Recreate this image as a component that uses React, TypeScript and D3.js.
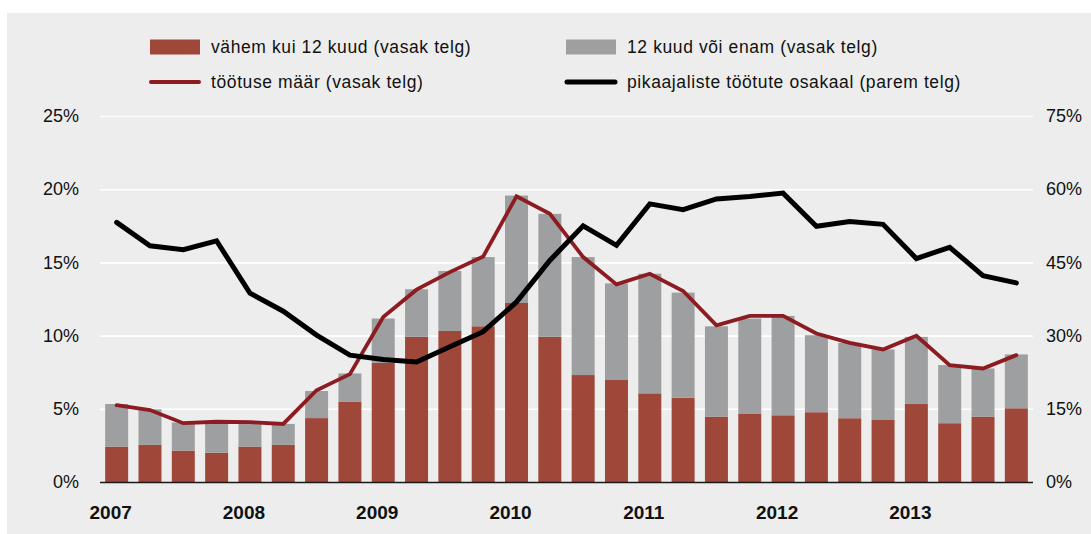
import React from "react";
import { scaleBand, scaleLinear, line } from "d3";

// quarterly data 2007Q1 .. 2013Q4
const quarters = [
  "2007Q1", "2007Q2", "2007Q3", "2007Q4",
  "2008Q1", "2008Q2", "2008Q3", "2008Q4",
  "2009Q1", "2009Q2", "2009Q3", "2009Q4",
  "2010Q1", "2010Q2", "2010Q3", "2010Q4",
  "2011Q1", "2011Q2", "2011Q3", "2011Q4",
  "2012Q1", "2012Q2", "2012Q3", "2012Q4",
  "2013Q1", "2013Q2", "2013Q3", "2013Q4",
];
const yearLabels = ["2007", "2008", "2009", "2010", "2011", "2012", "2013"];

// alla 12 kuu töötud (% tööjõust)
const shortTerm = [
  2.45, 2.57, 2.18, 2.04, 2.45, 2.57, 4.4, 5.53,
  8.17, 9.95, 10.35, 10.67, 12.26, 9.95, 7.34, 7.0,
  6.09, 5.79, 4.5, 4.68, 4.59, 4.8, 4.39, 4.27,
  5.36, 4.05, 4.5, 5.07,
];
// 12 kuud või enam
const longTerm = [
  2.91, 2.43, 1.92, 2.06, 1.6, 1.43, 1.85, 1.92,
  3.03, 3.25, 4.1, 4.73, 7.34, 8.4, 8.06, 6.6,
  8.17, 7.18, 6.17, 6.52, 6.79, 5.26, 5.15, 4.82,
  4.59, 3.97, 3.29, 3.68,
];
// töötuse määr
const unemploymentRate = [
  5.28, 4.95, 4.05, 4.15, 4.12, 4.0, 6.3, 7.4,
  11.3, 13.17, 14.37, 15.44, 19.55, 18.35, 15.4, 13.53,
  14.26, 13.08, 10.74, 11.38, 11.38, 10.18, 9.54, 9.09,
  10.02, 8.02, 7.79, 8.7,
];
// pikaajaliste töötute osakaal (parem telg)
const longTermShare = [
  53.3, 48.5, 47.7, 49.5, 38.8, 35.1, 30.2, 26.1,
  25.2, 24.7, 27.8, 30.9, 37.0, 45.5, 52.6, 48.6,
  57.1, 55.9, 58.1, 58.6, 59.3, 52.5, 53.5, 52.9,
  45.9, 48.2, 42.4, 40.9,
];
const leftTicks = [0, 5, 10, 15, 20, 25];
const rightTicks = [0, 15, 30, 45, 60, 75];

const RED_BAR = "#9f4739";
const GRAY_BAR = "#9e9fa0";
const RED_LINE = "#8c1c21";
const BG = "#ecedec";
const FONT = "'Liberation Sans', Arial, Helvetica, sans-serif";

const W = 1091;
const H = 534;
const plotLeft = 100;
const plotRight = 1033;
const plotTop = 116.5;
const plotBottom = 482.5;

export default function App() {
  const x = scaleBand<string>()
    .domain(quarters)
    .range([plotLeft, plotRight])
    .paddingInner(0.31)
    .paddingOuter(0.155);
  const yL = scaleLinear().domain([0, 25]).range([plotBottom, plotTop]);
  const yR = scaleLinear().domain([0, 75]).range([plotBottom, plotTop]);
  const cx = (i: number) => (x(quarters[i]) as number) + x.bandwidth() / 2;

  const rateLine = line<number>()
    .x((_, i) => cx(i))
    .y((d) => yL(d));
  const shareLine = line<number>()
    .x((_, i) => cx(i))
    .y((d) => yR(d));

  const legend = [
    { kind: "rect", color: RED_BAR, label: "vähem kui 12 kuud (vasak telg)", x: 150, y: 47 },
    { kind: "rect", color: GRAY_BAR, label: "12 kuud või enam (vasak telg)", x: 566, y: 47 },
    { kind: "line", color: RED_LINE, width: 4, label: "töötuse määr (vasak telg)", x: 150, y: 82 },
    { kind: "line", color: "#000", width: 5, label: "pikaajaliste töötute osakaal (parem telg)", x: 566, y: 82 },
  ];

  return (
    <svg
      width={W}
      height={H}
      style={{ position: "absolute", left: 0, top: 0, display: "block" }}
      fontFamily={FONT}
    >
      <rect x={0} y={0} width={W} height={H} fill="#fff" />
      <rect x={7} y={13} width={W - 7} height={H - 13} fill={BG} />

      {/* legend */}
      {legend.map((l) => (
        <g key={l.label}>
          {l.kind === "rect" ? (
            <rect x={l.x} y={l.y - 7.5} width={50} height={15} fill={l.color} />
          ) : (
            <line
              x1={l.x + 1}
              x2={l.x + 49}
              y1={l.y}
              y2={l.y}
              stroke={l.color}
              strokeWidth={l.width}
              strokeLinecap="round"
            />
          )}
          <text
            x={l.x + 61}
            y={l.y + 6}
            fontSize={17.5}
            letterSpacing={0.6}
            fill="#111"
          >
            {l.label}
          </text>
        </g>
      ))}

      {/* gridlines */}
      {leftTicks
        .filter((t) => t > 0)
        .map((t) => (
          <line
            key={t}
            x1={plotLeft}
            x2={plotRight}
            y1={yL(t)}
            y2={yL(t)}
            stroke="#fff"
            strokeWidth={1.6}
          />
        ))}

      {/* stacked bars */}
      {quarters.map((q, i) => (
        <g key={q}>
          <rect
            x={x(q)}
            y={yL(shortTerm[i])}
            width={x.bandwidth()}
            height={yL(0) - yL(shortTerm[i])}
            fill={RED_BAR}
          />
          <rect
            x={x(q)}
            y={yL(shortTerm[i] + longTerm[i])}
            width={x.bandwidth()}
            height={yL(shortTerm[i]) - yL(shortTerm[i] + longTerm[i])}
            fill={GRAY_BAR}
          />
        </g>
      ))}

      {/* x axis */}
      <line
        x1={plotLeft}
        x2={plotRight}
        y1={plotBottom}
        y2={plotBottom}
        stroke="#1a1a1a"
        strokeWidth={1.5}
      />

      {/* lines */}
      <path
        d={rateLine(unemploymentRate) || ""}
        fill="none"
        stroke={RED_LINE}
        strokeWidth={3.8}
        strokeLinejoin="miter"
        strokeLinecap="round"
      />
      <path
        d={shareLine(longTermShare) || ""}
        fill="none"
        stroke="#000"
        strokeWidth={5}
        strokeLinejoin="miter"
        strokeLinecap="round"
      />

      {/* left axis labels */}
      {leftTicks.map((t) => (
        <text
          key={"l" + t}
          x={79}
          y={yL(t) + 1}
          textAnchor="end"
          dominantBaseline="middle"
          fontSize={18}
          fill="#111"
        >
          {t}%
        </text>
      ))}
      {/* right axis labels */}
      {rightTicks.map((t) => (
        <text
          key={"r" + t}
          x={1046}
          y={yR(t) + 1}
          textAnchor="start"
          dominantBaseline="middle"
          fontSize={18}
          fill="#111"
        >
          {t}%
        </text>
      ))}

      {/* year labels */}
      {yearLabels.map((yr, k) => (
        <text
          key={yr}
          x={cx(k * 4) - 6}
          y={519}
          textAnchor="middle"
          fontSize={19}
          fontWeight="bold"
          fill="#111"
        >
          {yr}
        </text>
      ))}
    </svg>
  );
}
